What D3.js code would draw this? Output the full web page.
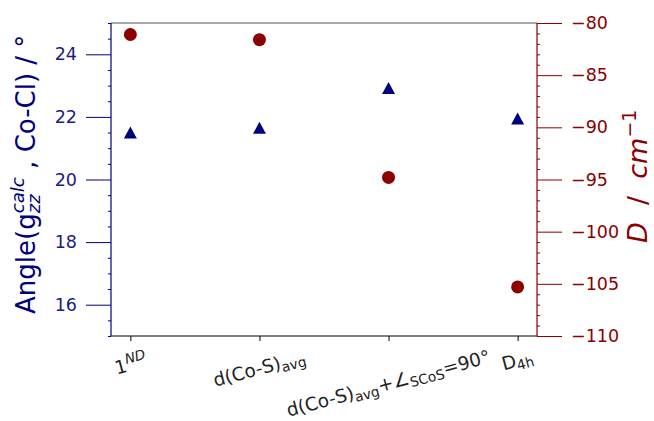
<!DOCTYPE html>
<html><head><meta charset="utf-8">
<script src="https://cdn.jsdelivr.net/npm/d3@7"></script>
<style>body{margin:0;background:#fff} svg{display:block} text{font-family:"DejaVu Sans",sans-serif}</style>
</head><body><svg id="c" width="654" height="421"></svg>
<script>
// ---- data ----
const categories = ["1ND", "d(Co-S)avg", "d(Co-S)avg+∠SCoS=90°", "D4h"];
const angleValues = [21.5, 21.65, 22.92, 21.95];     // left axis, triangles
const dValues = [-81.1, -81.6, -94.8, -105.3];         // right axis, circles
const leftTicks = [16, 18, 20, 22, 24];
const rightTicks = [-110, -105, -100, -95, -90, -85, -80];
// rich-text pieces for the tick labels (text only)
const categoryParts = [
  [{t:"1"}, {t:"ND", sup:true, it:true}],
  [{t:"d(Co-S)"}, {t:"avg", sub:true}],
  [{t:"d(Co-S)"}, {t:"avg", sub:true}, {t:"+∠"}, {t:"SCoS", sub:true}, {t:"=90°"}],
  [{t:"D"}, {t:"4h", sub:true}]
];
const leftLabelParts = [{t:"Angle(g"}, {t:"zz", sub:true, it:true}, {t:"calc", sup:true, it:true, stack:true}, {t:" , Co-Cl) / °"}];
const rightLabelParts = [{t:"D", it:true}, {t:"  /  "}, {t:"cm", it:true}, {t:"−1", sup:true}];

// ---- layout ----
const svg = d3.select("#c");
const L = 111, R = 537, T = 23, B = 336;
const NAVY = "#000080", DRED = "#8b0000";

const x = d3.scaleLinear().domain([-0.15, 3.15]).range([L, R]);
const yL = d3.scaleLinear().domain([15, 25]).range([B, T]);
const yR = d3.scaleLinear().domain([-110, -80]).range([B, T]);

function rich(sel, parts, size, scr) {
  scr = scr || 0.7;
  let cur = 0, prevW = 0;
  parts.forEach(p => {
    const fs = (p.sub || p.sup) ? size * scr : size;
    const target = p.sup ? -0.42 * size : (p.sub ? 0.18 * size : 0);
    const ts = sel.append("tspan").text(p.t).attr("font-size", fs)
      .attr("dy", target - cur).attr("xml:space", "preserve");
    if (p.it) ts.attr("font-style", "italic");
    if (p.stack) ts.attr("dx", -prevW);
    cur = target;
    prevW = ts.node().getComputedTextLength();
  });
}

// minor ticks
const leftMinor = d3.range(15, 25.001, 0.5).filter(v => !leftTicks.includes(v));
const rightMinor = d3.range(-110, -79.999, 1).filter(v => !rightTicks.includes(Math.round(v)));

const gl = svg.append("g").attr("transform", `translate(${L},0)`)
  .call(d3.axisLeft(yL).tickValues(leftMinor).tickSize(3).tickFormat(""));
gl.select(".domain").remove();
gl.selectAll("line").attr("stroke", NAVY);
const gl2 = svg.append("g").attr("transform", `translate(${L},0)`)
  .call(d3.axisLeft(yL).tickValues(leftTicks).tickSize(25).tickPadding(9));
gl2.select(".domain").remove();
gl2.selectAll("line").attr("stroke", NAVY);
gl2.selectAll("text").attr("fill", "#1a1a86").attr("font-size", 17.5).attr("font-family", "DejaVu Sans");

const gr = svg.append("g").attr("transform", `translate(${R},0)`)
  .call(d3.axisRight(yR).tickValues(rightMinor).tickSize(3).tickFormat(""));
gr.select(".domain").remove();
gr.selectAll("line").attr("stroke", DRED);
const gr2 = svg.append("g").attr("transform", `translate(${R},0)`)
  .call(d3.axisRight(yR).tickValues(rightTicks).tickSize(25).tickPadding(9));
gr2.select(".domain").remove();
gr2.selectAll("line").attr("stroke", DRED);
gr2.selectAll("text").attr("fill", DRED).attr("font-size", 17.5).attr("font-family", "DejaVu Sans");

// x ticks
const gx = svg.append("g").attr("transform", `translate(0,${B})`)
  .call(d3.axisBottom(x).tickValues(d3.range(categories.length)).tickSize(5).tickFormat(""));
gx.select(".domain").remove();
gx.selectAll("line").attr("stroke", "#000");

// spines
svg.append("line").attr("x1", L).attr("x2", R).attr("y1", T).attr("y2", T).attr("stroke", "#555").attr("stroke-width", 1.2);
svg.append("line").attr("x1", L).attr("x2", R).attr("y1", B).attr("y2", B).attr("stroke", "#000").attr("stroke-width", 1.2);
svg.append("line").attr("x1", L).attr("x2", L).attr("y1", T).attr("y2", B).attr("stroke", NAVY).attr("stroke-width", 1.2);
svg.append("line").attr("x1", R).attr("x2", R).attr("y1", T).attr("y2", B).attr("stroke", DRED).attr("stroke-width", 1.2);

// x tick labels (rotated 15deg, bbox centered on tick)
const ang = 15 * Math.PI / 180;
const labelTop = 346;
const XFS = 18.5;
categoryParts.forEach((parts, i) => {
  const g = svg.append("g");
  const t = g.append("text").attr("fill", "#222").attr("font-size", XFS);
  rich(t, parts, XFS, 0.74);
  const bb = t.node().getBBox();
  t.attr("x", -bb.x - bb.width / 2).attr("y", -bb.y - bb.height / 2);
  const H = bb.width * Math.sin(ang) + bb.height * Math.cos(ang);
  g.attr("transform", `translate(${x(i)},${labelTop + H / 2}) rotate(-15)`);
});

// axis labels
const tl = svg.append("text").attr("fill", NAVY).attr("font-size", 26)
  .attr("transform", `translate(35,314) rotate(-90)`);
rich(tl, leftLabelParts, 26);
const tr = svg.append("text").attr("fill", DRED).attr("font-size", 27)
  .attr("transform", `translate(647,243) rotate(-90)`);
rich(tr, rightLabelParts, 27);

// marks
svg.append("g").selectAll("path").data(angleValues).join("path")
  .attr("fill", NAVY)
  .attr("d", (v, i) => {
    const cx = x(i), cy = yL(v), w = 13, h = 12;
    return `M${cx},${cy - h / 2}L${cx + w / 2},${cy + h / 2}L${cx - w / 2},${cy + h / 2}Z`;
  });
svg.append("g").selectAll("circle").data(dValues).join("circle")
  .attr("cx", (v, i) => x(i)).attr("cy", v => yR(v)).attr("r", 6.5).attr("fill", DRED);
</script></body></html>
